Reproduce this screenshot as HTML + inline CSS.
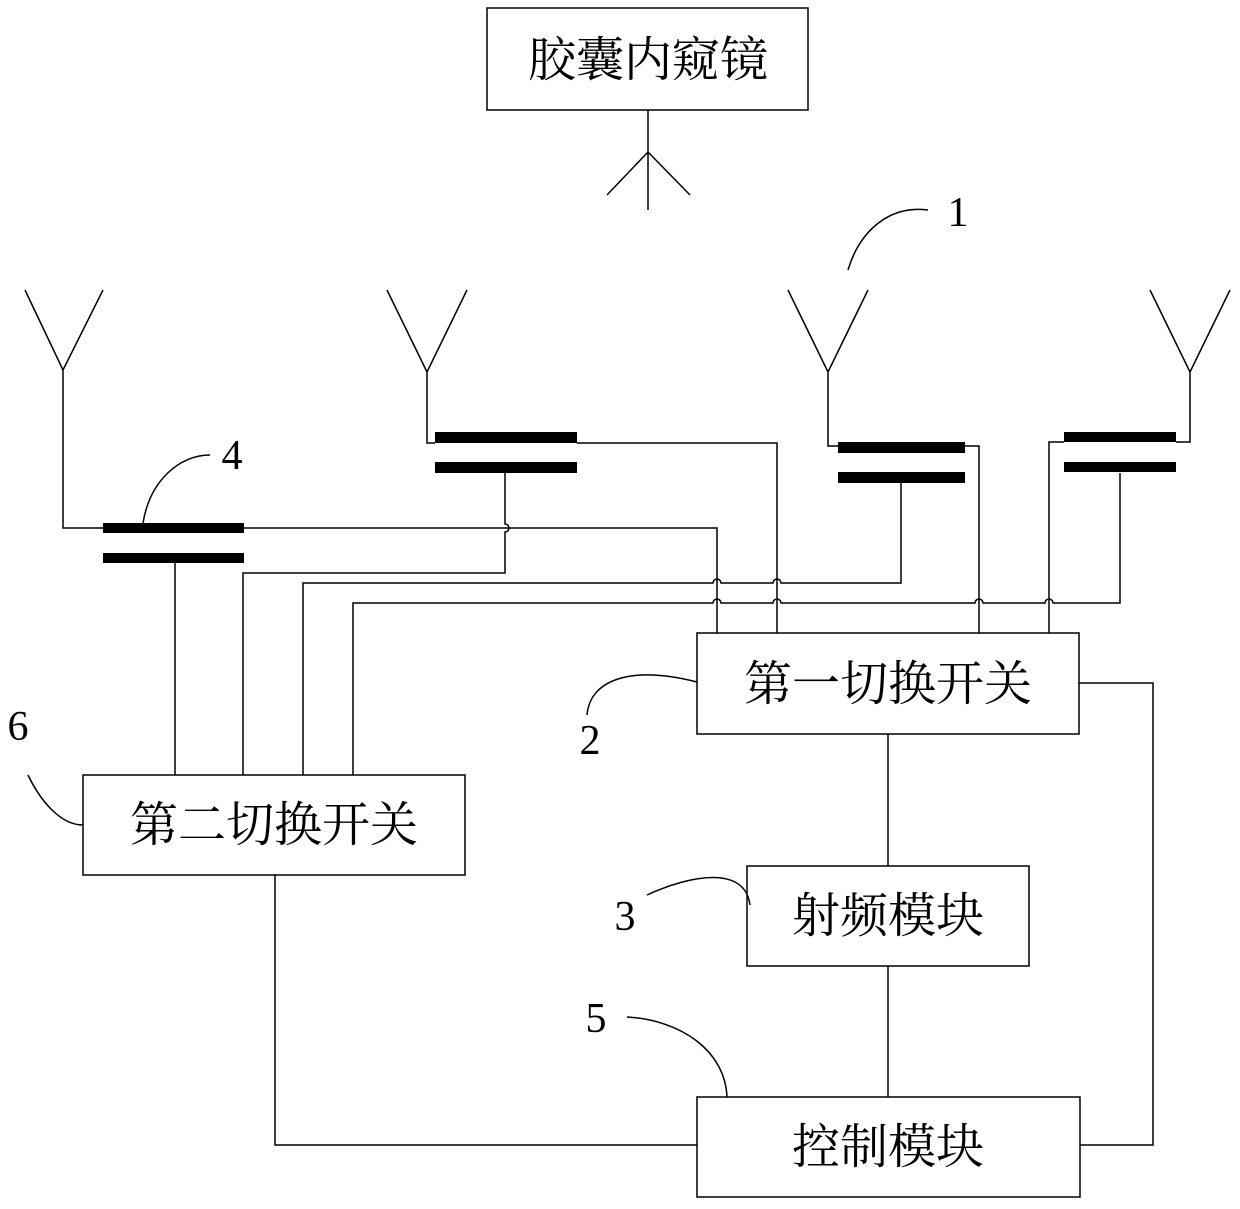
<!DOCTYPE html>
<html><head><meta charset="utf-8"><style>
html,body{margin:0;padding:0;background:#fff}
svg{display:block}
text{font-family:"Liberation Serif","Noto Serif CJK SC","Noto Sans CJK SC",serif;fill:#000}
</style></head><body>
<svg width="1240" height="1209" viewBox="0 0 1240 1209" xmlns="http://www.w3.org/2000/svg">
<g fill="none" stroke="#000" stroke-width="1.5">
<rect x="487" y="8" width="321" height="102"/>
<rect x="697" y="633" width="382" height="101"/>
<rect x="83" y="775" width="382" height="100"/>
<rect x="747" y="866" width="282" height="100"/>
<rect x="697" y="1097" width="383" height="100"/>
<path d="M648 110V210M648 152L607 195M648 152L690 195"/>
<path d="M25 290L63 370L103 290M63 370V528H103"/>
<path d="M387 290L427 372L467 290M427 372V443H435"/>
<path d="M788 290L828 372L868 290M828 372V446H838"/>
<path d="M1150 290L1190 372L1230 290M1190 372V442H1176"/>
<path d="M243 528H717V633"/>
<path d="M577 443H777V633"/>
<path d="M505 472V524A4 4 0 0 1 505 532V573H243V775"/>
<path d="M965 446H979V633"/>
<path d="M901 483V583H781A4 4 0 0 0 773 583H721A4 4 0 0 0 713 583H303V775"/>
<path d="M1064 442H1049V633"/>
<path d="M1120 473V603H1053A4 4 0 0 0 1045 603H983A4 4 0 0 0 975 603H781A4 4 0 0 0 773 603H721A4 4 0 0 0 713 603H353V775"/>
<path d="M175 562V775"/>
<path d="M888 734V866M888 966V1097"/>
<path d="M1079 683H1153V1145H1080"/>
<path d="M275 875V1145H697"/>
<path d="M848 270C860 230 890 205 928 210"/>
<path d="M143 523C150 480 180 455 210 455"/>
<path d="M587 715C590 680 630 665 697 682"/>
<path d="M28 775C40 800 60 825 83 825"/>
<path d="M647 895C690 875 745 865 750 905"/>
<path d="M627 1017C680 1020 725 1050 727 1097"/>
</g>
<g fill="#000">
<rect x="103" y="523" width="141" height="10"/>
<rect x="103" y="553" width="141" height="10"/>
<rect x="435" y="432" width="142" height="11"/>
<rect x="435" y="462" width="142" height="11"/>
<rect x="838" y="442" width="127" height="11"/>
<rect x="838" y="472" width="127" height="11"/>
<rect x="1064" y="432" width="112" height="10"/>
<rect x="1064" y="462" width="112" height="10"/>
</g>
<g font-size="48" text-anchor="middle">
<text x="648" y="76">胶囊内窥镜</text>
<text x="888" y="700">第一切换开关</text>
<text x="274" y="841">第二切换开关</text>
<text x="888" y="932">射频模块</text>
<text x="888" y="1163">控制模块</text>
</g>
<g font-size="42" text-anchor="middle">
<text x="958" y="226">1</text>
<text x="232" y="469">4</text>
<text x="590" y="754">2</text>
<text x="18" y="740">6</text>
<text x="625" y="930">3</text>
<text x="596" y="1032">5</text>
</g>
</svg>
</body></html>
